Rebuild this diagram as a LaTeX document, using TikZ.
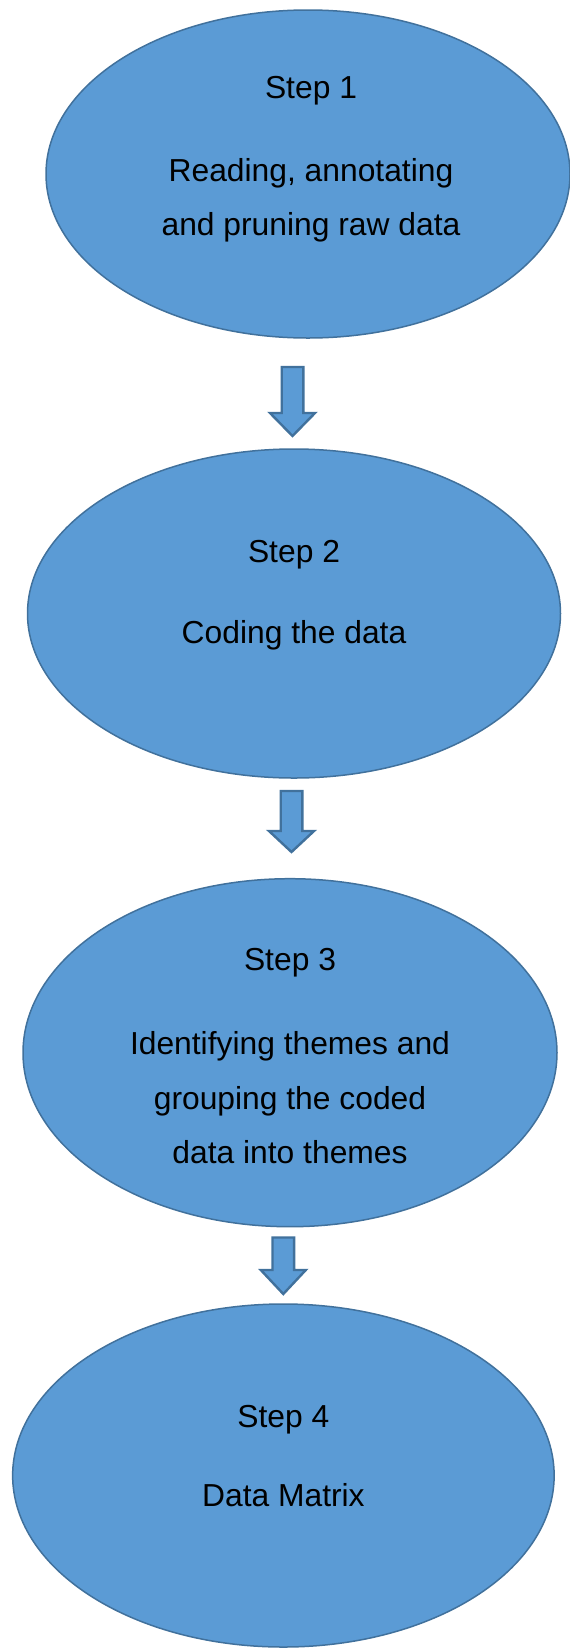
\documentclass[tikz,border=0pt]{standalone}
\usepackage{fontspec}
\setmainfont{Liberation Sans}
\usetikzlibrary{shapes.geometric}
\definecolor{ovalfill}{HTML}{5B9BD5}
\definecolor{ovaledge}{HTML}{41719C}
\tikzset{
  stepoval/.style={ellipse, draw=ovaledge, fill=ovalfill, line width=1.5pt, inner sep=0pt},
  lbl/.style={anchor=base, font=\fontsize{31.8pt}{38pt}\selectfont, text=black, inner sep=0pt},
  blockarrow/.style={draw=ovaledge, fill=ovalfill, line width=2.4pt, line join=miter},
}
% down-pointing block arrow from coordinate #1 (top centre) to #2 (tip), head base at y #3
\newcommand\downblock[3]{%
  \draw[blockarrow] ($(#1)+(-10.8pt,0)$) -- ($(#1)+(10.8pt,0)$)
    -- ($(#1 |- 0,#3)+(10.8pt,0)$) -- ($(#1 |- 0,#3)+(22.5pt,0)$)
    -- (#2) -- ($(#1 |- 0,#3)+(-22.5pt,0)$) -- ($(#1 |- 0,#3)+(-10.8pt,0)$) -- cycle;}
\usetikzlibrary{calc}
\begin{document}
\begin{tikzpicture}[x=1pt,y=1pt]
\useasboundingbox (0,0) rectangle (570,-1650);

% the four steps
\node[stepoval, minimum width=524pt, minimum height=328pt] (s1) at (308,-174) {};
\node[stepoval, minimum width=533pt, minimum height=329pt] (s2) at (294,-613.5) {};
\node[stepoval, minimum width=534pt, minimum height=348pt] (s3) at (290,-1052.7) {};
\node[stepoval, minimum width=541.5pt, minimum height=343pt] (s4) at (283.4,-1475.5) {};

% labels
\node[lbl] (t1a) at (311,-98) {Step 1};
\node[lbl] (t1b) at (311,-181) {Reading, annotating};
\node[lbl] (t1c) at (311,-235.5) {and pruning raw data};

\node[lbl] (t2a) at (294,-562.5) {Step 2};
\node[lbl] (t2b) at (294,-643.5) {Coding the data};

\node[lbl] (t3a) at (290,-970.5) {Step 3};
\node[lbl] (t3b) at (290,-1054.8) {Identifying themes and};
\node[lbl] (t3c) at (290,-1109.5) {grouping the coded};
\node[lbl] (t3d) at (290,-1163) {data into themes};

\node[lbl] (t4a) at (283.4,-1427) {Step 4};
\node[lbl] (t4b) at (283.4,-1506) {Data Matrix};

% arrows between steps
\coordinate (a1top) at (292.5,-367);
\coordinate (a1tip) at (292.5,-436);
\downblock{a1top}{a1tip}{-413}

\coordinate (a2top) at (291.5,-791);
\coordinate (a2tip) at (291.5,-852);
\downblock{a2top}{a2tip}{-831}

\coordinate (a3top) at (283.3,-1237.5);
\coordinate (a3tip) at (283.3,-1294);
\downblock{a3top}{a3tip}{-1270}
\end{tikzpicture}
\end{document}
